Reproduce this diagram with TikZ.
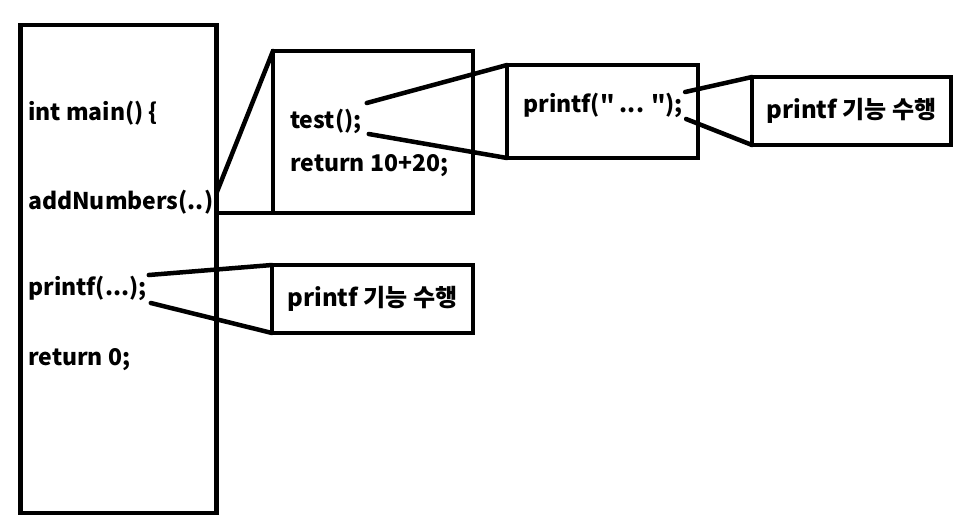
\documentclass[tikz,border=0pt]{standalone}
\usepackage{fontspec}
\setmainfont{Noto Sans CJK KR}
\usetikzlibrary{calc}

\begin{document}
\begin{tikzpicture}[x=1pt,y=-1pt,
    box/.style={draw,line width=4.5pt,outer sep=0pt,inner sep=0pt},
    code/.style={anchor=west,inner sep=0pt,font=\bfseries\fontsize{23}{27}\selectfont},
    label/.style={code,anchor=center,font=\bfseries\fontsize{24}{28}\selectfont},
    link/.style={line width=4.5pt,line cap=round}]
    \useasboundingbox (0,0) rectangle (973,531);
    % boxes
    \node[box,minimum width=196,minimum height=488] (mainbox) at (118.5,269) {};
    \node[box,minimum width=200,minimum height=162] (testbox) at (373,132) {};
    \node[box,minimum width=191,minimum height=93] (callbox) at (602.5,111.5) {};
    \node[box,minimum width=199,minimum height=68] (printbox) at (851.5,111) {};
    \node[box,minimum width=201,minimum height=68] (outbox) at (372.5,299) {};
    % code lines
    \node[code] (mainline) at (28,113) {int main() \{};
    \node[code] (addnum) at (28,202) {addNumbers(..)};
    \node[code] (printline) at (28,288) {printf(...);};
    \node[code] (retzero) at (28,360) {return 0;};
    \node[code] (testline) at (290,121) {test();};
    \node[code] (retsum) at (290,166) {return 10+20;};
    \node[code] (callline) at (523,105) {printf(\textquotedbl{} ... \textquotedbl);};
    \node[label] (printtext) at (printbox) {printf 기능 수행};
    \node[label] (outtext) at (outbox) {printf 기능 수행};
    % zoom lines
    \draw[link] ($(mainbox.east |- addnum.east)+(0,-9)$) -- (testbox.north west);
    \draw[link] (mainbox.east |- testbox.south west) -- (testbox.south west);
    \draw[link] ($(testline.east)+(5,-18)$) -- (callbox.north west);
    \draw[link] ($(testline.east)+(7,13)$) -- (callbox.south west);
    \draw[link] ($(callline.east)+(2,-13)$) -- (printbox.north west);
    \draw[link] ($(callline.east)+(3,14)$) -- (printbox.south west);
    \draw[link] ($(printline.east)+(2,-13)$) -- (outbox.north west);
    \draw[link] ($(printline.east)+(4,15)$) -- (outbox.south west);
\end{tikzpicture}
\end{document}
